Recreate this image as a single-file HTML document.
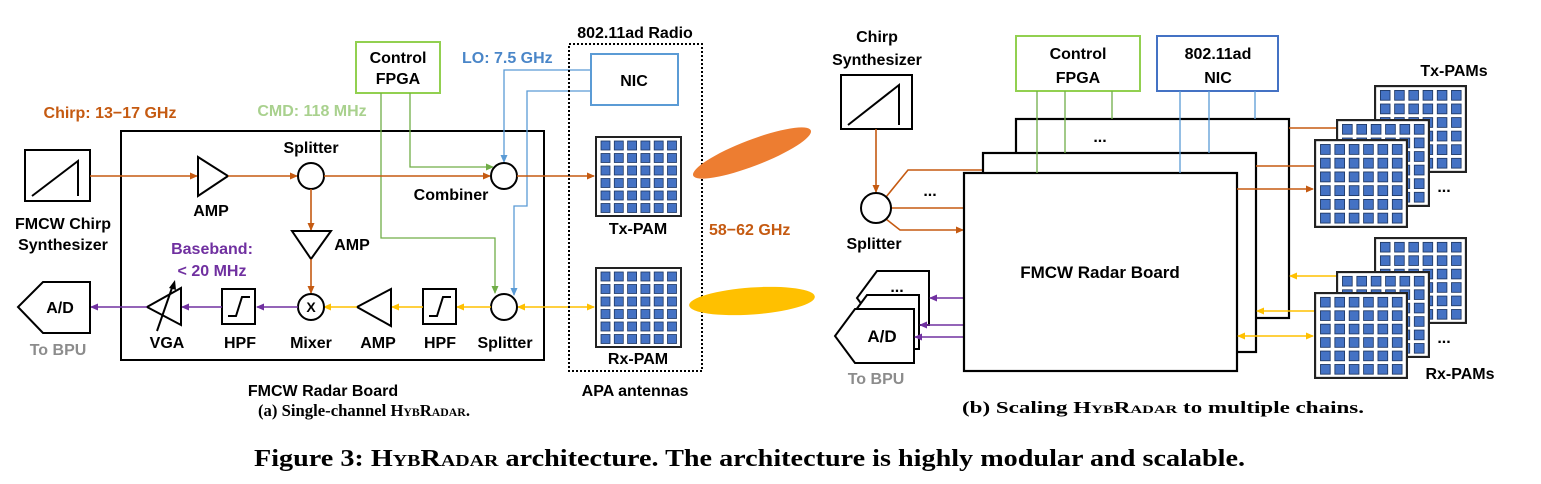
<!DOCTYPE html>
<html><head><meta charset="utf-8"><style>
html,body{margin:0;padding:0;background:#fff;}
svg{display:block}
.t{font-family:"Liberation Sans",sans-serif;font-weight:bold;font-size:16px;fill:#000}
.c{font-family:"Liberation Serif",serif;font-weight:bold;font-size:17px;fill:#000}
.sc{font-variant:small-caps}
</style></head><body>
<svg width="1541" height="484" viewBox="0 0 1541 484" xmlns="http://www.w3.org/2000/svg">
<defs>
<marker id="ao" markerWidth="8" markerHeight="8" refX="7" refY="4" orient="auto" markerUnits="userSpaceOnUse"><path d="M0,0.5 L8,4 L0,7.5 z" fill="#c55a11"/></marker>
<marker id="ag" markerWidth="8" markerHeight="8" refX="7" refY="4" orient="auto" markerUnits="userSpaceOnUse"><path d="M0,0.5 L8,4 L0,7.5 z" fill="#70ad47"/></marker>
<marker id="ab" markerWidth="8" markerHeight="8" refX="7" refY="4" orient="auto" markerUnits="userSpaceOnUse"><path d="M0,0.5 L8,4 L0,7.5 z" fill="#5b9bd5"/></marker>
<marker id="ap" markerWidth="8" markerHeight="8" refX="7" refY="4" orient="auto" markerUnits="userSpaceOnUse"><path d="M0,0.5 L8,4 L0,7.5 z" fill="#7030a0"/></marker>
<marker id="ay" markerWidth="8" markerHeight="8" refX="7" refY="4" orient="auto" markerUnits="userSpaceOnUse"><path d="M0,0.5 L8,4 L0,7.5 z" fill="#ffc000"/></marker>
<marker id="ays" markerWidth="8" markerHeight="8" refX="1" refY="4" orient="auto" markerUnits="userSpaceOnUse"><path d="M8,0.5 L0,4 L8,7.5 z" fill="#ffc000"/></marker>
<symbol id="pam" viewBox="0 0 87 81" preserveAspectRatio="none">
<rect x="1" y="1" width="85" height="79" fill="#fff" stroke="#222" stroke-width="2"/>
<g fill="#4472c4" stroke="#1f3864" stroke-width="0.8">
<rect x="6" y="5" width="9" height="9"/><rect x="19.3" y="5" width="9" height="9"/><rect x="32.6" y="5" width="9" height="9"/><rect x="45.9" y="5" width="9" height="9"/><rect x="59.2" y="5" width="9" height="9"/><rect x="72.5" y="5" width="9" height="9"/>
<rect x="6" y="17.5" width="9" height="9"/><rect x="19.3" y="17.5" width="9" height="9"/><rect x="32.6" y="17.5" width="9" height="9"/><rect x="45.9" y="17.5" width="9" height="9"/><rect x="59.2" y="17.5" width="9" height="9"/><rect x="72.5" y="17.5" width="9" height="9"/>
<rect x="6" y="30" width="9" height="9"/><rect x="19.3" y="30" width="9" height="9"/><rect x="32.6" y="30" width="9" height="9"/><rect x="45.9" y="30" width="9" height="9"/><rect x="59.2" y="30" width="9" height="9"/><rect x="72.5" y="30" width="9" height="9"/>
<rect x="6" y="42.5" width="9" height="9"/><rect x="19.3" y="42.5" width="9" height="9"/><rect x="32.6" y="42.5" width="9" height="9"/><rect x="45.9" y="42.5" width="9" height="9"/><rect x="59.2" y="42.5" width="9" height="9"/><rect x="72.5" y="42.5" width="9" height="9"/>
<rect x="6" y="55" width="9" height="9"/><rect x="19.3" y="55" width="9" height="9"/><rect x="32.6" y="55" width="9" height="9"/><rect x="45.9" y="55" width="9" height="9"/><rect x="59.2" y="55" width="9" height="9"/><rect x="72.5" y="55" width="9" height="9"/>
<rect x="6" y="67.5" width="9" height="9"/><rect x="19.3" y="67.5" width="9" height="9"/><rect x="32.6" y="67.5" width="9" height="9"/><rect x="45.9" y="67.5" width="9" height="9"/><rect x="59.2" y="67.5" width="9" height="9"/><rect x="72.5" y="67.5" width="9" height="9"/>
</g>
</symbol>
</defs>

<!-- ===== Panel (a) ===== -->
<rect x="121" y="131" width="423" height="229" fill="none" stroke="#000" stroke-width="2"/>
<rect x="25" y="150" width="65" height="51" fill="#fff" stroke="#000" stroke-width="2"/>
<path d="M32,196 L78,161 L78,196" fill="none" stroke="#000" stroke-width="2"/>
<text class="t" x="63" y="229" text-anchor="middle">FMCW Chirp</text>
<text class="t" x="63" y="250" text-anchor="middle">Synthesizer</text>
<text class="t" x="110" y="118" text-anchor="middle" style="fill:#c55a11">Chirp: 13−17 GHz</text>
<text class="t" x="312" y="116" text-anchor="middle" style="fill:#a9d18e">CMD: 118 MHz</text>
<text class="t" x="462" y="63" style="fill:#4a86c8">LO: 7.5 GHz</text>
<text class="t" x="212" y="254" text-anchor="middle" style="fill:#7030a0">Baseband:</text>
<text class="t" x="212" y="276" text-anchor="middle" style="fill:#7030a0">&lt; 20 MHz</text>

<rect x="356" y="42" width="84" height="51" fill="#fff" stroke="#92d050" stroke-width="2"/>
<text class="t" x="398" y="63" text-anchor="middle">Control</text>
<text class="t" x="398" y="84" text-anchor="middle">FPGA</text>
<polyline points="381,93 381,238 495,238 495,293" fill="none" stroke="#70ad47" stroke-width="1.3" marker-end="url(#ag)"/>
<polyline points="410,93 410,167 493,167" fill="none" stroke="#70ad47" stroke-width="1.3" marker-end="url(#ag)"/>
<polyline points="591,70 504,70 504,162" fill="none" stroke="#5b9bd5" stroke-width="1.3" marker-end="url(#ab)"/>
<polyline points="591,91 527,91 527,206 514,206 514,295" fill="none" stroke="#5b9bd5" stroke-width="1.3" marker-end="url(#ab)"/>

<line x1="90" y1="176" x2="197" y2="176" stroke="#c55a11" stroke-width="1.6" marker-end="url(#ao)"/>
<polygon points="198,157 228,176 198,196" fill="#fff" stroke="#000" stroke-width="2"/>
<text class="t" x="211" y="216" text-anchor="middle">AMP</text>
<line x1="228" y1="176" x2="297" y2="176" stroke="#c55a11" stroke-width="1.6" marker-end="url(#ao)"/>
<circle cx="311" cy="176" r="13" fill="#fff" stroke="#000" stroke-width="2"/>
<text class="t" x="311" y="153" text-anchor="middle">Splitter</text>
<line x1="324" y1="176" x2="490" y2="176" stroke="#c55a11" stroke-width="1.6" marker-end="url(#ao)"/>
<circle cx="504" cy="176" r="13" fill="#fff" stroke="#000" stroke-width="2"/>
<text class="t" x="451" y="200" text-anchor="middle">Combiner</text>
<line x1="517" y1="176" x2="594" y2="176" stroke="#c55a11" stroke-width="1.6" marker-end="url(#ao)"/>
<line x1="311" y1="189" x2="311" y2="230" stroke="#c55a11" stroke-width="1.6" marker-end="url(#ao)"/>
<polygon points="292,231 331,231 311,259" fill="#fff" stroke="#000" stroke-width="2"/>
<text class="t" x="352" y="250" text-anchor="middle">AMP</text>
<line x1="311" y1="259" x2="311" y2="293" stroke="#c55a11" stroke-width="1.6" marker-end="url(#ao)"/>

<line x1="569" y1="307" x2="518" y2="307" stroke="#ffc000" stroke-width="1.6" marker-end="url(#ay)"/>
<line x1="569" y1="307" x2="594" y2="307" stroke="#ffc000" stroke-width="1.6" marker-end="url(#ay)"/>
<circle cx="504" cy="307" r="13" fill="#fff" stroke="#000" stroke-width="2"/>
<text class="t" x="505" y="348" text-anchor="middle">Splitter</text>
<line x1="491" y1="307" x2="457" y2="307" stroke="#ffc000" stroke-width="1.6" marker-end="url(#ay)"/>
<rect x="423" y="289" width="33" height="35" fill="#fff" stroke="#000" stroke-width="2"/>
<path d="M429,316 L437,316 L443,297 L451,297" fill="none" stroke="#000" stroke-width="2"/>
<text class="t" x="440" y="348" text-anchor="middle">HPF</text>
<line x1="423" y1="307" x2="392" y2="307" stroke="#ffc000" stroke-width="1.6" marker-end="url(#ay)"/>
<polygon points="357,307 391,289 391,326" fill="#fff" stroke="#000" stroke-width="2"/>
<text class="t" x="378" y="348" text-anchor="middle">AMP</text>
<line x1="357" y1="307" x2="324" y2="307" stroke="#ffc000" stroke-width="1.6" marker-end="url(#ay)"/>
<circle cx="311" cy="307" r="13" fill="#fff" stroke="#000" stroke-width="2"/>
<text class="t" x="311" y="312" text-anchor="middle" style="font-size:14px">X</text>
<text class="t" x="311" y="348" text-anchor="middle">Mixer</text>
<line x1="298" y1="307" x2="257" y2="307" stroke="#7030a0" stroke-width="1.6" marker-end="url(#ap)"/>
<rect x="222" y="289" width="33" height="35" fill="#fff" stroke="#000" stroke-width="2"/>
<path d="M228,316 L236,316 L242,297 L250,297" fill="none" stroke="#000" stroke-width="2"/>
<text class="t" x="240" y="348" text-anchor="middle">HPF</text>
<line x1="222" y1="307" x2="182" y2="307" stroke="#7030a0" stroke-width="1.6" marker-end="url(#ap)"/>
<polygon points="147,307 181,288 181,325" fill="#fff" stroke="#000" stroke-width="2"/>
<line x1="157" y1="331" x2="173" y2="285" stroke="#000" stroke-width="2"/>
<path d="M169,288 L175,280 L176,290 z" fill="#000"/>
<text class="t" x="167" y="348" text-anchor="middle">VGA</text>
<line x1="147" y1="307" x2="91" y2="307" stroke="#7030a0" stroke-width="1.6" marker-end="url(#ap)"/>
<polygon points="43,282 90,282 90,333 43,333 18,307" fill="#fff" stroke="#000" stroke-width="2"/>
<text class="t" x="60" y="313" text-anchor="middle">A/D</text>
<text class="t" x="58" y="355" text-anchor="middle" style="fill:#8c8c8c">To BPU</text>
<text class="t" x="323" y="396" text-anchor="middle">FMCW Radar Board</text>

<text class="t" x="635" y="38" text-anchor="middle">802.11ad Radio</text>
<rect x="569" y="44" width="133" height="327" fill="none" stroke="#000" stroke-width="2" stroke-dasharray="2,2"/>
<rect x="591" y="54" width="87" height="51" fill="#fff" stroke="#5b9bd5" stroke-width="2"/>
<text class="t" x="634" y="86" text-anchor="middle">NIC</text>
<use href="#pam" x="595" y="136" width="87" height="81"/>
<text class="t" x="638" y="234" text-anchor="middle">Tx-PAM</text>
<use href="#pam" x="595" y="267" width="87" height="81"/>
<text class="t" x="638" y="364" text-anchor="middle">Rx-PAM</text>
<text class="t" x="635" y="396" text-anchor="middle">APA antennas</text>
<text class="t" x="709" y="235" style="fill:#c55a11">58−62 GHz</text>
<ellipse cx="752" cy="153" rx="63" ry="13" transform="rotate(-21 752 153)" fill="#ed7d31"/>
<ellipse cx="752" cy="301" rx="63" ry="13.5" transform="rotate(-4 752 301)" fill="#ffc000"/>

<text class="c" x="258" y="416" textLength="212" lengthAdjust="spacingAndGlyphs">(a)  Single-channel <tspan class="sc">HybRadar</tspan>.</text>

<!-- ===== Panel (b) ===== -->
<text class="t" x="877" y="42" text-anchor="middle">Chirp</text>
<text class="t" x="877" y="65" text-anchor="middle">Synthesizer</text>
<rect x="841" y="75" width="71" height="54" fill="#fff" stroke="#000" stroke-width="2"/>
<path d="M848,125 L899,85 L899,125" fill="none" stroke="#000" stroke-width="2"/>
<line x1="876" y1="129" x2="876" y2="192" stroke="#c55a11" stroke-width="1.6" marker-end="url(#ao)"/>
<polyline points="886,197 908,170 983,170" fill="none" stroke="#c55a11" stroke-width="1.6"/>
<line x1="891" y1="208" x2="964" y2="208" stroke="#c55a11" stroke-width="1.6"/>
<polyline points="886,219 900,230 963,230" fill="none" stroke="#c55a11" stroke-width="1.6" marker-end="url(#ao)"/>
<circle cx="876" cy="208" r="15" fill="#fff" stroke="#000" stroke-width="2"/>
<text class="t" x="930" y="196" text-anchor="middle">...</text>
<text class="t" x="874" y="249" text-anchor="middle">Splitter</text>

<polygon points="877,271 929,271 929,325 877,325 857,298" fill="#fff" stroke="#000" stroke-width="2"/>
<text class="t" x="897" y="292" text-anchor="middle">...</text>
<polygon points="867,295 919,295 919,349 867,349 847,322" fill="#fff" stroke="#000" stroke-width="2"/>
<polygon points="855,309 914,309 914,363 855,363 835,336" fill="#fff" stroke="#000" stroke-width="2"/>
<text class="t" x="882" y="342" text-anchor="middle" style="font-size:17px">A/D</text>
<text class="t" x="876" y="384" text-anchor="middle" style="fill:#8c8c8c">To BPU</text>
<line x1="964" y1="298" x2="930" y2="298" stroke="#7030a0" stroke-width="1.6" marker-end="url(#ap)"/>
<line x1="964" y1="325" x2="920" y2="325" stroke="#7030a0" stroke-width="1.6" marker-end="url(#ap)"/>
<line x1="964" y1="337" x2="915" y2="337" stroke="#7030a0" stroke-width="1.6" marker-end="url(#ap)"/>

<rect x="1016" y="119" width="273" height="199" fill="#fff" stroke="#000" stroke-width="2.2"/>
<text class="t" x="1100" y="142" text-anchor="middle">...</text>
<rect x="983" y="153" width="273" height="199" fill="#fff" stroke="#000" stroke-width="2.2"/>
<rect x="964" y="173" width="273" height="198" fill="#fff" stroke="#000" stroke-width="2.2"/>
<text class="t" x="1100" y="278" text-anchor="middle" style="font-size:17px">FMCW Radar Board</text>

<rect x="1016" y="36" width="124" height="55" fill="#fff" stroke="#92d050" stroke-width="2"/>
<text class="t" x="1078" y="59" text-anchor="middle">Control</text>
<text class="t" x="1078" y="83" text-anchor="middle">FPGA</text>
<rect x="1157" y="36" width="121" height="55" fill="#fff" stroke="#4472c4" stroke-width="2"/>
<text class="t" x="1218" y="59" text-anchor="middle">802.11ad</text>
<text class="t" x="1218" y="83" text-anchor="middle">NIC</text>
<g stroke="#70ad47" stroke-width="1.3">
<line x1="1037" y1="91" x2="1037" y2="173"/><line x1="1065" y1="91" x2="1065" y2="153"/><line x1="1112" y1="91" x2="1112" y2="119"/></g>
<g stroke="#5b9bd5" stroke-width="1.3">
<line x1="1180" y1="91" x2="1180" y2="173"/><line x1="1209" y1="91" x2="1209" y2="153"/><line x1="1255" y1="91" x2="1255" y2="119"/></g>

<use href="#pam" x="1374" y="85" width="93" height="88"/>
<use href="#pam" x="1336" y="119" width="94" height="88"/>
<use href="#pam" x="1314" y="139" width="94" height="89"/>
<text class="t" x="1444" y="192" text-anchor="middle">...</text>
<text class="t" x="1454" y="76" text-anchor="middle">Tx-PAMs</text>
<use href="#pam" x="1374" y="237" width="93" height="87"/>
<use href="#pam" x="1336" y="271" width="94" height="87"/>
<use href="#pam" x="1314" y="292" width="94" height="87"/>
<text class="t" x="1444" y="343" text-anchor="middle">...</text>
<text class="t" x="1460" y="379" text-anchor="middle">Rx-PAMs</text>
<line x1="1289" y1="128" x2="1336" y2="128" stroke="#c55a11" stroke-width="1.6"/>
<line x1="1256" y1="166" x2="1314" y2="166" stroke="#c55a11" stroke-width="1.6"/>
<line x1="1237" y1="189" x2="1313" y2="189" stroke="#c55a11" stroke-width="1.6" marker-end="url(#ao)"/>
<line x1="1336" y1="276" x2="1290" y2="276" stroke="#ffc000" stroke-width="1.6" marker-end="url(#ay)"/>
<line x1="1314" y1="311" x2="1257" y2="311" stroke="#ffc000" stroke-width="1.6" marker-end="url(#ay)"/>
<line x1="1238" y1="336" x2="1313" y2="336" stroke="#ffc000" stroke-width="1.6" marker-start="url(#ays)" marker-end="url(#ay)"/>

<text class="c" x="962" y="413" textLength="402" lengthAdjust="spacingAndGlyphs">(b)  Scaling <tspan class="sc">HybRadar</tspan> to multiple chains.</text>
<text class="c" x="254" y="466" style="font-size:24px" textLength="991" lengthAdjust="spacingAndGlyphs">Figure 3: <tspan class="sc">HybRadar</tspan> architecture. The architecture is highly modular and scalable.</text>
</svg>
</body></html>
